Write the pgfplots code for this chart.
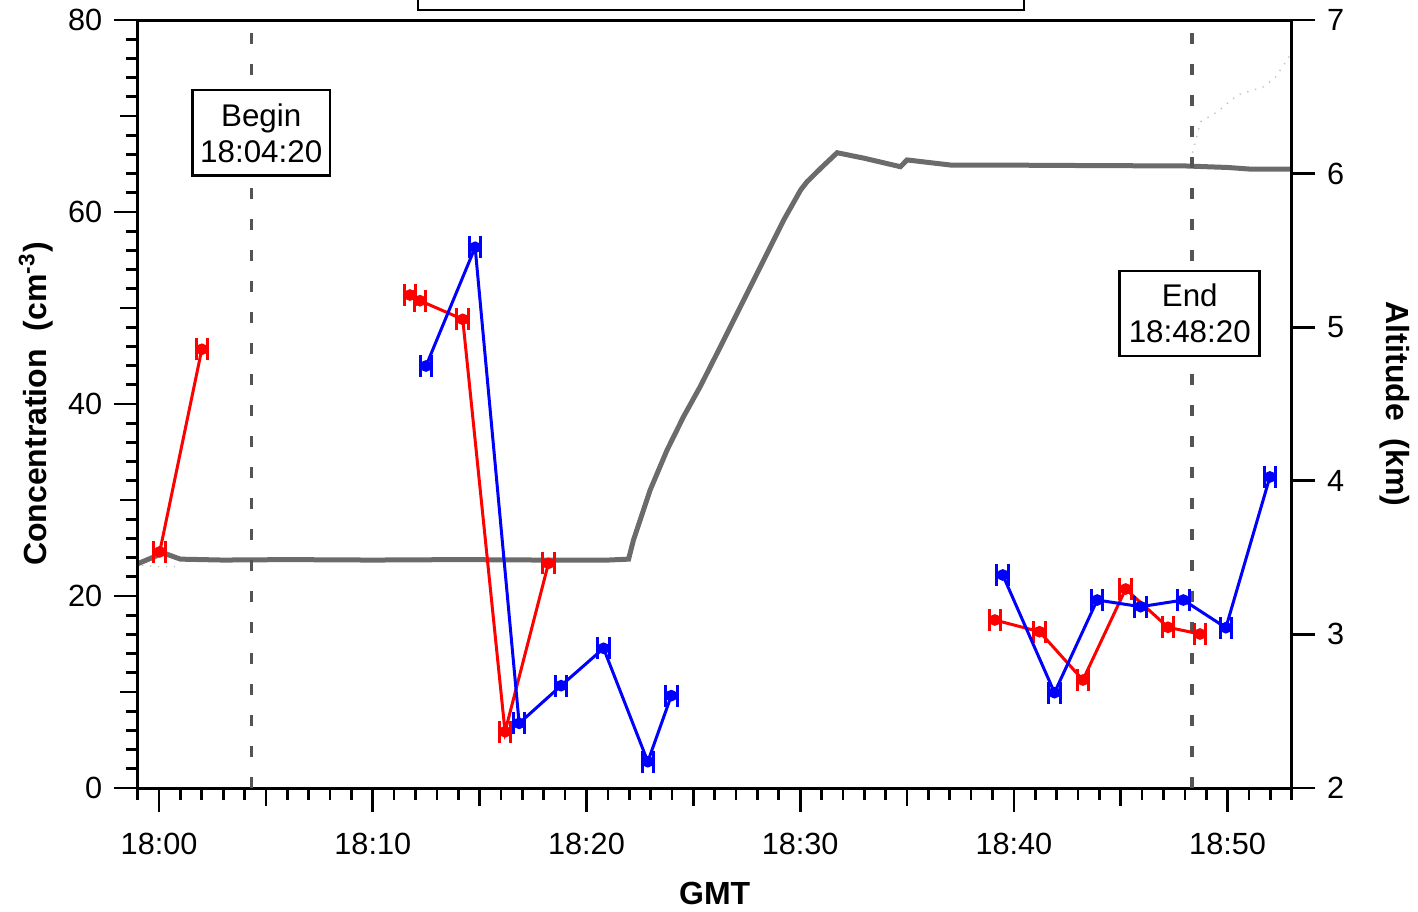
\documentclass[border=0pt]{standalone}
\usepackage{pgfplots}
\pgfplotsset{compat=1.18}
\usepackage{fontspec}
\setmainfont{Liberation Sans}[BoldFont={Liberation Sans Bold}]
\definecolor{altgray}{rgb}{0.42,0.42,0.42}
\definecolor{dashgray}{rgb}{0.33,0.33,0.33}
\begin{document}
\begin{tikzpicture}
\pgfplotsset{
 base/.style={scale only axis, width=346.2pt, height=230.4pt, xmin=-1, xmax=53,
   tick align=outside, major tick length=7.1pt, minor tick length=3.6pt,
   axis line style={line width=0.9pt}, tick style={line width=0.8pt, black},
   tick label style={font=\fontsize{9.2}{11}\selectfont},
   /pgf/number format/assume math mode=true},
 errs/.style={line width=0.9pt, mark=*, mark size=1.5pt, mark options={solid, line width=0.5pt, fill=#1}, color=#1,
   error bars/.cd, x dir=both, x fixed=0.27, error bar style={line width=0.9pt, #1},
   error mark=|, error mark options={line width=0.9pt, mark size=3.3pt, #1}},
}
% altitude axis (background)
\begin{axis}[base, axis x line=none, axis y line*=right, ymin=2, ymax=7, ytick={2,...,7}, minor ytick={},
  every axis y label/.style={at={(axis description cs:1.0895,0.5)}, rotate=-90, anchor=center, font=\fontsize{9.6}{11}\selectfont},
  ylabel={\textbf{Altitude\ \ (km)}}]
\addplot[altgray, line width=1.5pt] coordinates {
(-1.0,3.46) (0.2,3.53) (1.0,3.49) (3,3.484) (6,3.487) (10,3.484) (14,3.487) (18,3.484) (21.0,3.484) (21.97,3.49)
(22.2,3.615) (22.98,3.94) (23.77,4.20) (24.54,4.417) (25.32,4.613) (26.11,4.83) (26.89,5.047)
(27.67,5.264) (28.45,5.481) (29.23,5.698) (30.02,5.893) (30.32,5.947) (31.0,6.04) (31.73,6.136)
(33.0,6.1) (34.69,6.045) (35.0,6.089) (37.03,6.056) (40,6.055) (44,6.052) (48,6.05) (50,6.04) (51,6.03) (53,6.03)};
\addplot[gray!50, line width=0.4pt, dotted] coordinates {(-0.8,3.45) (0,3.44) (0.8,3.44)};
\addplot[gray!50, line width=0.4pt, dotted] coordinates {
(48.36,6.136) (48.74,6.338) (49.53,6.403) (50.46,6.512) (51.71,6.566) (52.26,6.631) (52.93,6.772)};
\end{axis}
% concentration axis
\begin{axis}[base, xtick pos=left, ytick pos=left, ymin=0, ymax=80,
  xtick={0,10,...,50}, xticklabels={18:00,18:10,18:20,18:30,18:40,18:50},
  minor xtick={-1,0,...,53},
  extra x ticks={5,15,25,35,45}, extra x tick labels={}, extra x tick style={major tick length=5.3pt},
  ytick={0,20,...,80}, minor ytick={0,2,...,80},
  extra y ticks={10,30,50,70}, extra y tick labels={}, extra y tick style={major tick length=5.3pt},
  xticklabel style={yshift=-3pt},
  every axis y label/.style={at={(axis description cs:-0.0881,0.5)}, rotate=90, anchor=center, font=\fontsize{9.6}{11}\selectfont},
  every axis x label/.style={at={(axis description cs:0.5,-0.137)}, anchor=center, font=\fontsize{9.6}{11}\selectfont},
  ylabel={\textbf{Concentration\ \ (cm\textsuperscript{-3})}}, xlabel={\textbf{GMT}}]
\addplot[dashgray, line width=1.05pt, dash pattern=on 3.3pt off 6pt] coordinates {(4.333,0) (4.333,80)};
\addplot[dashgray, line width=1.05pt, dash pattern=on 3.3pt off 6pt] coordinates {(48.333,0) (48.333,80)};
\addplot[errs=red] coordinates {(0.03,24.6) (2.0,45.7)};
\addplot[errs=red] coordinates {(11.74,51.35) (12.21,50.76) (14.21,48.82) (16.19,5.86) (18.22,23.4)};
\addplot[errs=red] coordinates {(39.11,17.5) (41.2,16.28) (43.23,11.25) (45.23,20.73) (47.21,16.74) (48.71,16.04)};
\addplot[errs=blue] coordinates {(12.49,43.96) (14.79,56.32) (16.85,6.74) (18.81,10.66) (20.8,14.55) (22.87,2.74) (23.97,9.62)};
\addplot[errs=blue] coordinates {(39.48,22.19) (41.9,9.93) (43.9,19.58) (45.93,18.89) (47.93,19.58) (49.92,16.7) (51.98,32.4)};
\node[draw, line width=0.8pt, fill=white, align=center, minimum width=41.2pt, minimum height=25.7pt, inner sep=1pt,
  font=\fontsize{9.4}{10.8}\selectfont] at (axis cs:4.78,68.25) {Begin\\18:04:20};
\node[draw, line width=0.8pt, fill=white, align=center, minimum width=42pt, minimum height=25.5pt, inner sep=1pt,
  font=\fontsize{9.4}{10.8}\selectfont] at (axis cs:48.23,49.43) {End\\18:48:20};
\end{axis}
\draw[line width=0.6pt] (84.09pt,233.4pt) rectangle (265.9pt,262pt);
\pgfresetboundingbox
\useasboundingbox (-41.31pt,-36.9pt) rectangle (384.09pt,236.4pt);
\end{tikzpicture}
\end{document}
